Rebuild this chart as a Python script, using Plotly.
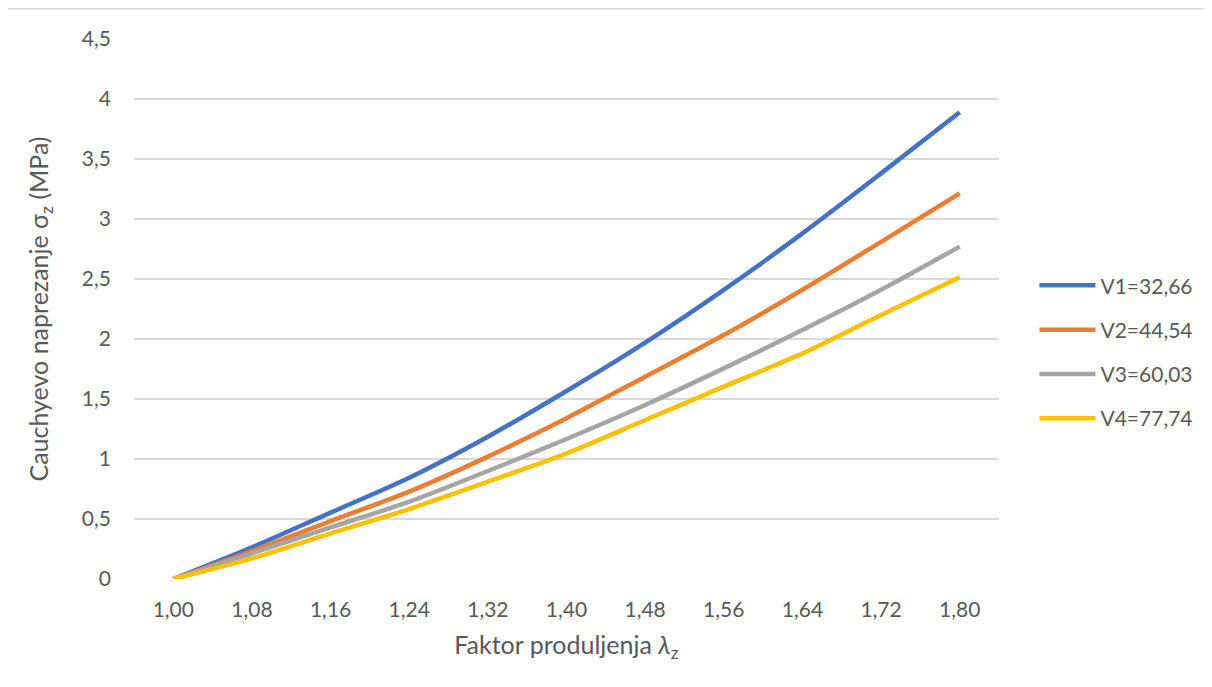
import plotly.graph_objects as go

categories = ["1,00", "1,08", "1,16", "1,24", "1,32", "1,40", "1,48", "1,56", "1,64", "1,72", "1,80"]
v1 = [0, 0.264, 0.553, 0.844, 1.186, 1.567, 1.970, 2.410, 2.880, 3.380, 3.890]
v2 = [0, 0.233, 0.483, 0.728, 1.020, 1.340, 1.686, 2.033, 2.410, 2.810, 3.214]
v3 = [0, 0.214, 0.430, 0.644, 0.900, 1.167, 1.450, 1.755, 2.075, 2.410, 2.770]
v4 = [0, 0.172, 0.380, 0.583, 0.811, 1.047, 1.325, 1.603, 1.880, 2.200, 2.514]
names = ["V1=32,66", "V2=44,54", "V3=60,03", "V4=77,74"]
colors = ["#4472C4", "#ED7D31", "#A5A5A5", "#FFC000"]
y_ticks = [0, 0.5, 1, 1.5, 2, 2.5, 3, 3.5, 4, 4.5]

FONT = "Lato"
TXT = "#595959"

fig = go.Figure()
for i, (vals, name, col) in enumerate(zip([v1, v2, v3, v4], names, colors)):
    fig.add_trace(go.Scatter(
        x=categories, y=vals, name=name, mode="lines",
        line=dict(color=col, width=4.5, shape="spline", smoothing=0.8),
        legendgroup=f"g{i}",
    ))

fig.update_layout(
    width=1212, height=687,
    paper_bgcolor="white", plot_bgcolor="white",
    margin=dict(l=126, r=221, t=31, b=116, autoexpand=False),
    font=dict(family=FONT, color=TXT, size=21),
    separators=",.",
    showlegend=True,
    legend=dict(
        x=1.041, y=0.42, xanchor="left", yanchor="middle",
        font=dict(family=FONT, size=21, color=TXT),
        tracegroupgap=14, itemwidth=56,
        bgcolor="rgba(0,0,0,0)",
    ),
    xaxis=dict(
        type="category", range=[-0.5, 10.5],
        showgrid=False, showline=False, zeroline=False,
        ticks="", ticklabelstandoff=16,
        tickfont=dict(family=FONT, size=21, color=TXT),
        title=dict(text="Faktor produljenja <i>λ</i><sub>z</sub>",
                   font=dict(family=FONT, size=25, color=TXT), standoff=16),
        automargin=False,
    ),
    yaxis=dict(
        range=[0, 4.5], tickvals=y_ticks,
        showgrid=True, gridcolor="#D9D9D9", gridwidth=1.5,
        zeroline=False, showline=False, ticks="",
        ticklabelstandoff=22,
        tickfont=dict(family=FONT, size=21, color=TXT),
        title=dict(text="Cauchyevo naprezanje σ<sub>z</sub> (MPa)",
                   font=dict(family=FONT, size=25, color=TXT), standoff=26),
        automargin=False,
    ),
    shapes=[
        dict(type="line", xref="paper", yref="paper", x0=-0.1483, x1=-0.1483, y0=-0.3, y1=1.056,
             line=dict(color="#D9D9D9", width=1.5)),
        dict(type="line", xref="paper", yref="paper", x0=-0.1483, x1=1.3, y0=1.056, y1=1.056,
             line=dict(color="#D9D9D9", width=1.5)),
    ],
)

fig.write_html("out.html")
